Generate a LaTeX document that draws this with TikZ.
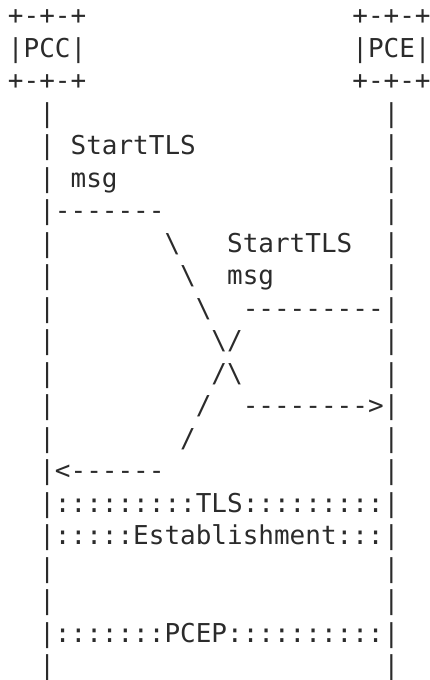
\documentclass[tikz,border=0pt]{standalone}
\usepackage{fontspec}
\setmonofont{DejaVu Sans Mono}
\newdimen\cw
\cw=15.653pt
\newcommand\artfont{\ttfamily\fontsize{26}{32.5}\selectfont}
\newcommand\sk[1]{\hspace*{#1\cw}}
\newcommand\bs{\textbackslash}
\definecolor{artcol}{HTML}{2B2B2B}
\tikzset{
  artline/.style={anchor=base west, inner sep=0pt, outer sep=0pt, text=artcol, font=\artfont}
}
\begin{document}
\begin{tikzpicture}[x=1pt,y=1pt]
\useasboundingbox (0,0) rectangle (430,680);
\node[artline] (r0)  at (8,{655.2-32.5*0})  {+-+-+\sk{17}+-+-+};
\node[artline] (r1)  at (8,{655.2-32.5*1})  {|PCC|\sk{17}|PCE|};
\node[artline] (r2)  at (8,{655.2-32.5*2})  {+-+-+\sk{17}+-+-+};
\node[artline] (r3)  at (8,{655.2-32.5*3})  {\sk{2}|\sk{21}|};
\node[artline] (r4)  at (8,{655.2-32.5*4})  {\sk{2}|\sk{1}StartTLS\sk{12}|};
\node[artline] (r5)  at (8,{655.2-32.5*5})  {\sk{2}|\sk{1}msg\sk{17}|};
\node[artline] (r6)  at (8,{655.2-32.5*6})  {\sk{2}|-------\sk{14}|};
\node[artline] (r7)  at (8,{655.2-32.5*7})  {\sk{2}|\sk{7}\bs\sk{3}StartTLS\sk{2}|};
\node[artline] (r8)  at (8,{655.2-32.5*8})  {\sk{2}|\sk{8}\bs\sk{2}msg\sk{7}|};
\node[artline] (r9)  at (8,{655.2-32.5*9})  {\sk{2}|\sk{9}\bs\sk{2}---------|};
\node[artline] (r10) at (8,{655.2-32.5*10}) {\sk{2}|\sk{10}\bs/\sk{9}|};
\node[artline] (r11) at (8,{655.2-32.5*11}) {\sk{2}|\sk{10}/\bs\sk{9}|};
\node[artline] (r12) at (8,{655.2-32.5*12}) {\sk{2}|\sk{9}/\sk{2}-------->|};
\node[artline] (r13) at (8,{655.2-32.5*13}) {\sk{2}|\sk{8}/\sk{12}|};
\node[artline] (r14) at (8,{655.2-32.5*14}) {\sk{2}|<------\sk{14}|};
\node[artline] (r15) at (8,{655.2-32.5*15}) {\sk{2}|:::::::::TLS:::::::::|};
\node[artline] (r16) at (8,{655.2-32.5*16}) {\sk{2}|:::::Establishment:::|};
\node[artline] (r17) at (8,{655.2-32.5*17}) {\sk{2}|\sk{21}|};
\node[artline] (r18) at (8,{655.2-32.5*18}) {\sk{2}|\sk{21}|};
\node[artline] (r19) at (8,{655.2-32.5*19}) {\sk{2}|:::::::PCEP::::::::::|};
\node[artline] (r20) at (8,{655.2-32.5*20}) {\sk{2}|\sk{21}|};
\end{tikzpicture}
\end{document}
